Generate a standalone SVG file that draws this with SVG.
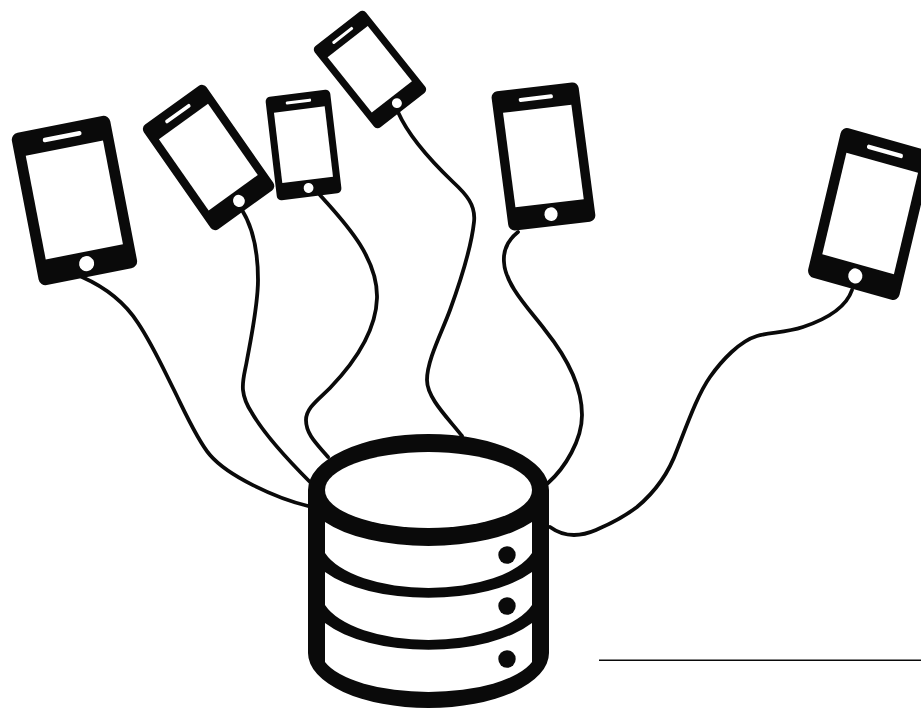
<svg xmlns="http://www.w3.org/2000/svg" width="921" height="708" viewBox="0 0 921 708">
<style>
.cable{fill:none;stroke:#0a0a0a;stroke-width:3.8;stroke-linecap:round}
.body{fill:#0a0a0a}
.hole{fill:#fff}
.rule{stroke:#0a0a0a;stroke-width:1.6;fill:none}
</style>
<defs>
<g id="phone">
<rect class="body" x="-1.2" y="-1.2" width="99.4" height="154.4" rx="7"/>
<rect class="hole" x="9.5" y="23" width="78" height="105"/>
<rect class="hole" x="29" y="9" width="39" height="4.5" rx="2"/>
<circle class="hole" cx="48.5" cy="140" r="7.5"/>
</g>
</defs>
<rect width="921" height="708" fill="#fff"/>
<g id="connectors">
<path class="cable" d="M82,277C100,285 122,298 138,323C152,344 162,366 173,388C184,410 197,440 210,455C228,476 275,498 308,506"/>
<path class="cable" d="M242,210C252,226 258,250 258,280C258,305 251,338 247,360C245,372 242,380 243,390C244,400 248,407 252,413C266,437 290,462 310,482"/>
<path class="cable" d="M320,195C340,218 378,255 377,298C376,330 355,362 330,388C318,400 306,408 306,420C306,435 318,445 328,457"/>
<path class="cable" d="M398,112C408,135 430,160 453,182C466,194 476,205 474,222C471,250 458,288 450,310C442,332 427,360 427,380C427,398 448,418 462,436"/>
<path class="cable" d="M518,232C508,240 503,250 504,262C505,285 530,310 545,330C565,355 582,385 582,415C582,440 565,468 548,483"/>
<path class="cable" d="M852,290C847,305 830,318 803,327C785,333 770,332 757,336C740,341 722,360 710,377C698,394 688,422 677,450C668,475 655,492 637,507C620,520 605,526 596,530C582,536 565,538 550,527"/>
<path class="rule" d="M599,660.300H921"/>
</g>
<g id="phone-1"><use href="#phone" transform="matrix(.99 -.196 .19 .987 12 135)"/></g>
<g id="phone-2"><use href="#phone" transform="matrix(.63 -.454 .474 .678 142 128)"/></g>
<g id="phone-3"><use href="#phone" transform="matrix(.65 -.082 .079 .671 266 98)"/></g>
<g id="phone-4"><use href="#phone" transform="matrix(.515 -.402 .421 .526 313 49)"/></g>
<g id="phone-5"><use href="#phone" transform="matrix(.876 -.103 .118 .901 492 93)"/></g>
<g id="phone-6"><use href="#phone" transform="matrix(.918 .258 -.23 .967 843 128)"/></g>
<g id="database">
<path class="body" d="M308,490A120.500,56 0 0 1 549,490V653A120.500,55 0 0 1 308,653Z"/>
<ellipse class="hole" cx="428.500" cy="490" rx="103.500" ry="38"/>
<path class="hole" d="M325,522A120.500,49 0 0 0 532,522V553A108,49 0 0 1 325,553Z"/>
<path class="hole" d="M325,572A120.500,53 0 0 0 532,572V605A108,49 0 0 1 325,605Z"/>
<path class="hole" d="M325,623A120.500,55 0 0 0 532,623V662A108,42 0 0 1 325,662Z"/>
<circle class="body" cx="507" cy="555" r="8.700"/>
<circle class="body" cx="507" cy="606" r="8.700"/>
<circle class="body" cx="507" cy="659" r="8.700"/>
</g>
</svg>
